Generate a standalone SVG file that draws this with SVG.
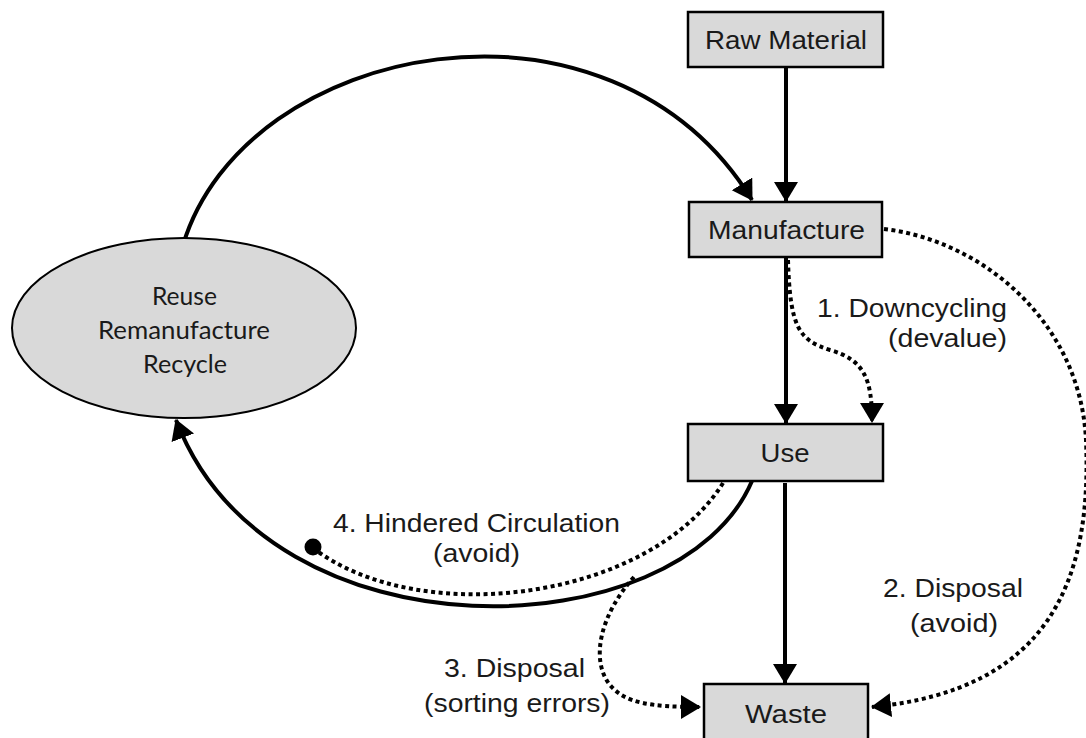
<svg xmlns="http://www.w3.org/2000/svg" width="1086" height="738" viewBox="0 0 1086 738">
<style>
.box{fill:#d9d9d9;stroke:#000;stroke-width:2.5}
.ell{fill:#d9d9d9;stroke:#000;stroke-width:2}
.t{font-family:"Liberation Sans",Arial,sans-serif;font-size:25px;fill:#1a1a1a}
.te{font-family:Lato,"Open Sans",sans-serif;font-size:25px;fill:#1a1a1a;text-anchor:middle}
.solid{fill:none;stroke:#000;stroke-width:4}
.dot{fill:none;stroke:#000;stroke-width:4;stroke-dasharray:4 3.5}
</style>
<defs>
<marker id="ah" markerUnits="userSpaceOnUse" markerWidth="22" markerHeight="26" refX="19" refY="12" orient="auto" viewBox="0 0 22 26">
<path d="M0,0 L20,12 L0,24 z" fill="#000"/>
</marker>
</defs>
<g id="connectors">
<path class="solid" d="M183,245 C245,40 610,-30 752,200" marker-end="url(#ah)"/>
<line class="solid" x1="786" y1="67" x2="786" y2="201" marker-end="url(#ah)"/>
<line class="solid" x1="786" y1="257" x2="786" y2="423" marker-end="url(#ah)"/>
<line class="solid" x1="785" y1="483" x2="785" y2="683" marker-end="url(#ah)"/>
<path class="solid" d="M752,481 C680,650 270,665 176,420" marker-end="url(#ah)"/>
<path class="dot" d="M788,260 C790,330 800,340 830,350 C865,360 872,380 872,422" marker-end="url(#ah)"/>
<path class="dot" d="M884,229 C980,240 1080,320 1086,440 C1092,580 1050,690 872,707" marker-end="url(#ah)"/>
<path class="dot" d="M634,577 C600,615 590,660 610,685 C625,703 650,707 700,707" marker-end="url(#ah)"/>
<path class="dot" d="M723,483 C650,600 420,630 313,548"/>
<circle cx="313" cy="547" r="8.5" fill="#000"/>
</g>
<g id="node-reuse">
<ellipse class="ell" cx="184" cy="328" rx="172" ry="90"/>
<text class="te" x="184.5" y="305" textLength="65" lengthAdjust="spacingAndGlyphs">Reuse</text>
<text class="te" x="184" y="339" textLength="172" lengthAdjust="spacingAndGlyphs">Remanufacture</text>
<text class="te" x="185" y="373" textLength="84" lengthAdjust="spacingAndGlyphs">Recycle</text>
</g>
<g id="node-raw">
<rect class="box" x="688" y="12" width="195" height="55"/>
<text class="t" x="786" y="49" text-anchor="middle" textLength="162" lengthAdjust="spacingAndGlyphs">Raw Material</text>
</g>
<g id="node-manufacture">
<rect class="box" x="689" y="202" width="193" height="55"/>
<text class="t" x="786.5" y="239" text-anchor="middle" textLength="157" lengthAdjust="spacingAndGlyphs">Manufacture</text>
</g>
<g id="node-use">
<rect class="box" x="688" y="424" width="195" height="57"/>
<text class="t" x="785" y="462" text-anchor="middle" textLength="49" lengthAdjust="spacingAndGlyphs">Use</text>
</g>
<g id="node-waste">
<rect class="box" x="704" y="684" width="164" height="70"/>
<text class="t" x="786" y="723" text-anchor="middle" textLength="82" lengthAdjust="spacingAndGlyphs">Waste</text>
</g>
<g id="labels">
<text class="t" x="1007" y="317" text-anchor="end" textLength="190" lengthAdjust="spacingAndGlyphs">1. Downcycling</text>
<text class="t" x="1007" y="347" text-anchor="end" textLength="119" lengthAdjust="spacingAndGlyphs">(devalue)</text>
<text class="t" x="953" y="597" text-anchor="middle" textLength="140" lengthAdjust="spacingAndGlyphs">2. Disposal</text>
<text class="t" x="954" y="632" text-anchor="middle" textLength="88" lengthAdjust="spacingAndGlyphs">(avoid)</text>
<text class="t" x="514.5" y="677" text-anchor="middle" textLength="141" lengthAdjust="spacingAndGlyphs">3. Disposal</text>
<text class="t" x="517" y="712" text-anchor="middle" textLength="186" lengthAdjust="spacingAndGlyphs">(sorting errors)</text>
<text class="t" x="476.5" y="532" text-anchor="middle" textLength="287" lengthAdjust="spacingAndGlyphs">4. Hindered Circulation</text>
<text class="t" x="476.5" y="562" text-anchor="middle" textLength="87" lengthAdjust="spacingAndGlyphs">(avoid)</text>
</g>
</svg>
